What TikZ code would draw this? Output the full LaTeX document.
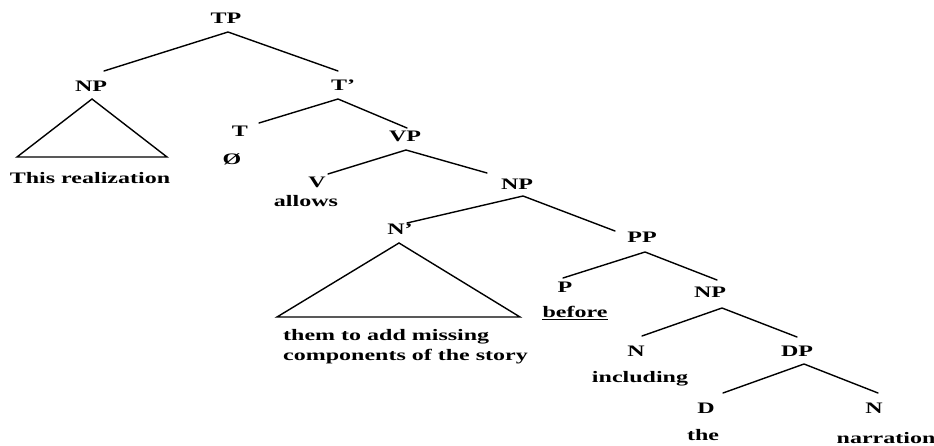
\documentclass[tikz,border=0pt]{standalone}
\usepackage{fontspec}
\newfontfamily\treefont[FakeStretch=1.5]{Liberation Serif}
\begin{document}
\begin{tikzpicture}[x=1pt,y=-1pt,
  lbl/.style={inner sep=0pt,anchor=base,font=\treefont\bfseries\fontsize{16}{19}\selectfont},
  wordl/.style={lbl,anchor=base west},
  branch/.style={line width=1.4pt,line cap=round,line join=miter},
]
\useasboundingbox (0,0) rectangle (934,446);

% category labels
\node[lbl] (tp)  at (226,24)  {TP};
\node[lbl] (np1) at (91,92)   {NP};
\node[lbl] (tb)  at (343,91)  {T’};
\node[lbl] (t)   at (240,137) {T};
\node[lbl] (tnull) at (232,165) {Ø};
\node[lbl] (vp)  at (405,142) {VP};
\node[lbl] (v)   at (317,188) {V};
\node[lbl] (np2) at (517,190) {NP};
\node[lbl] (nb)  at (400,235) {N’};
\node[lbl] (pp)  at (642,243) {PP};
\node[lbl] (p)   at (565,293) {P};
\node[lbl] (np3) at (710,298) {NP};
\node[lbl] (n1)  at (636,356) {N};
\node[lbl] (dp)  at (797,356) {DP};
\node[lbl] (d)   at (706,413) {D};
\node[lbl] (n2)  at (874,413) {N};

% terminal strings
\node[lbl] (w-real)   at (90,184)  {This realization};
\node[lbl] (w-allows) at (306,207) {allows};
\node[wordl] (w-them) at (283,340) {them to add missing};
\node[wordl] (w-comp) at (283,360) {components of the story};
\node[lbl] (w-before) at (575,317) {before};
\node[lbl] (w-incl)   at (640,382) {including};
\node[lbl] (w-the)    at (703,440) {the};
\node[lbl] (w-narr)   at (886,443) {narration};
\draw[line width=1.3pt] ([yshift=-2.5pt]w-before.base west) -- ([yshift=-2.5pt]w-before.base east);

% branch end points
\coordinate (tp-b)  at (228,32);
\coordinate (np1-t) at (104,71);
\coordinate (tb-t)  at (338,71);
\coordinate (tb-b)  at (338,99);
\coordinate (t-t)   at (259,123);
\coordinate (vp-t)  at (407,128);
\coordinate (vp-b)  at (406,150);
\coordinate (v-t)   at (328,174);
\coordinate (np2-t) at (487,173);
\coordinate (np2-b) at (523,196);
\coordinate (nb-t)  at (407,223);
\coordinate (pp-t)  at (615,231);
\coordinate (pp-b)  at (645,252);
\coordinate (p-t)   at (563,278);
\coordinate (np3-t) at (717,280);
\coordinate (np3-b) at (722,308);
\coordinate (n1-t)  at (642,336);
\coordinate (dp-t)  at (797,337);
\coordinate (dp-b)  at (804,364);
\coordinate (d-t)   at (723,393);
\coordinate (n2-t)  at (878,393);

% triangles
\coordinate (np1-apex) at (92,99);
\coordinate (np1-bl)   at (17,157);
\coordinate (np1-br)   at (167,157);
\coordinate (nb-apex)  at (399,243);
\coordinate (nb-bl)    at (277,317);
\coordinate (nb-br)    at (520,317);

\draw[branch] (np1-t) -- (tp-b) -- (tb-t);
\draw[branch] (t-t) -- (tb-b) -- (vp-t);
\draw[branch] (v-t) -- (vp-b) -- (np2-t);
\draw[branch] (nb-t) -- (np2-b) -- (pp-t);
\draw[branch] (p-t) -- (pp-b) -- (np3-t);
\draw[branch] (n1-t) -- (np3-b) -- (dp-t);
\draw[branch] (d-t) -- (dp-b) -- (n2-t);
\draw[branch] (np1-apex) -- (np1-br) -- (np1-bl) -- cycle;
\draw[branch] (nb-apex) -- (nb-br) -- (nb-bl) -- cycle;
\end{tikzpicture}
\end{document}
